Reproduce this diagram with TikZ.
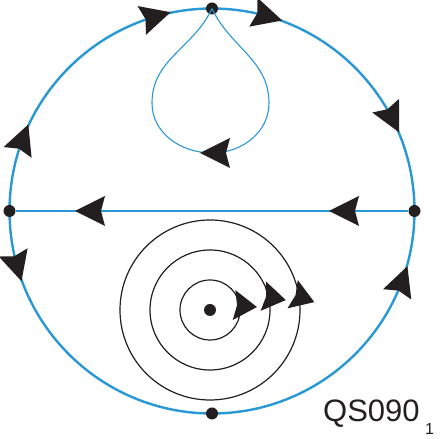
\documentclass[tikz,border=0pt]{standalone}
\usepackage{fontspec}
\setmainfont{Liberation Sans}
\definecolor{flow}{RGB}{41,152,212}
\definecolor{ink}{RGB}{35,31,32}
\tikzset{
  dot/.style={circle,fill=ink,inner sep=0pt,minimum size=12pt},
  bigline/.style={draw=flow,line width=2.4pt},
  thinflow/.style={draw=flow,line width=1.1pt},
  orbit/.style={draw=ink,line width=1.2pt},
  headfill/.style={fill=ink,draw=none},
}
\newcommand\bighead[3]{\fill[headfill,shift={(#1,#2)},rotate=#3] (15,0) -- (-15,15) -- (-11,0) -- (-15,-15) -- cycle;}
\newcommand\ringhead[2]{\fill[headfill,shift={(212,228)},shift={(#1:202.5)},rotate=#2] (15,0) -- (-15,15) -- (-11,0) -- (-15,-15) -- cycle;}
\newcommand\smallhead[3]{\fill[headfill,shift={(#1,#2)},rotate=#3] (12,0) -- (-11,15) -- (-8,0) -- (-11,-15) -- cycle;}
\begin{document}
\begin{tikzpicture}[x=1pt,y=1pt]
\useasboundingbox (0,0) rectangle (440,439);
\coordinate (C) at (212,228);
% big separatrix circle
\draw[bigline] (C) circle[radius=202.5];
% dots on circle
\node[dot] (T) at (212,430.5) {};
\node[dot] (B) at (212,25.5) {};
\node[dot] (L) at (9.5,228) {};
\node[dot] (R) at (414.5,228) {};
% horizontal line
\draw[bigline] (L) -- (R);
% teardrop loop
\draw[thinflow] (T.center) to[out=-115,in=90] (152,336) to[out=-90,in=180] (212,286)
  to[out=0,in=-90] (269,336) to[out=90,in=-65] (T.center);
% concentric orbits
\node[dot] (D) at (210,129) {};
\draw[orbit] (D.center) circle[radius=30];
\draw[orbit] (D.center) circle[radius=60];
\draw[orbit] (D.center) circle[radius=90];
% arrowheads on the big circle
\ringhead{106}{16}
\ringhead{74}{-16}
\ringhead{27}{-63}
\ringhead{159}{69}
\ringhead{196}{-74}
\ringhead{-20}{70}
% arrowheads on horizontal line and loop
\bighead{344}{228}{180}
\bighead{90}{228}{180}
\bighead{215}{286}{180}
% arrowheads on orbits
\smallhead{245}{133}{-5}
\smallhead{274}{141}{-10}
\smallhead{303}{141}{-20}
% label
\node[anchor=base west,inner sep=0pt,font=\fontsize{31}{31}\selectfont,text=ink] (lbl) at (323,17) {QS090};
\node[anchor=base west,inner sep=0pt,font=\fontsize{16}{16}\selectfont,text=ink] (sub) at (425,4) {1};
\end{tikzpicture}
\end{document}
